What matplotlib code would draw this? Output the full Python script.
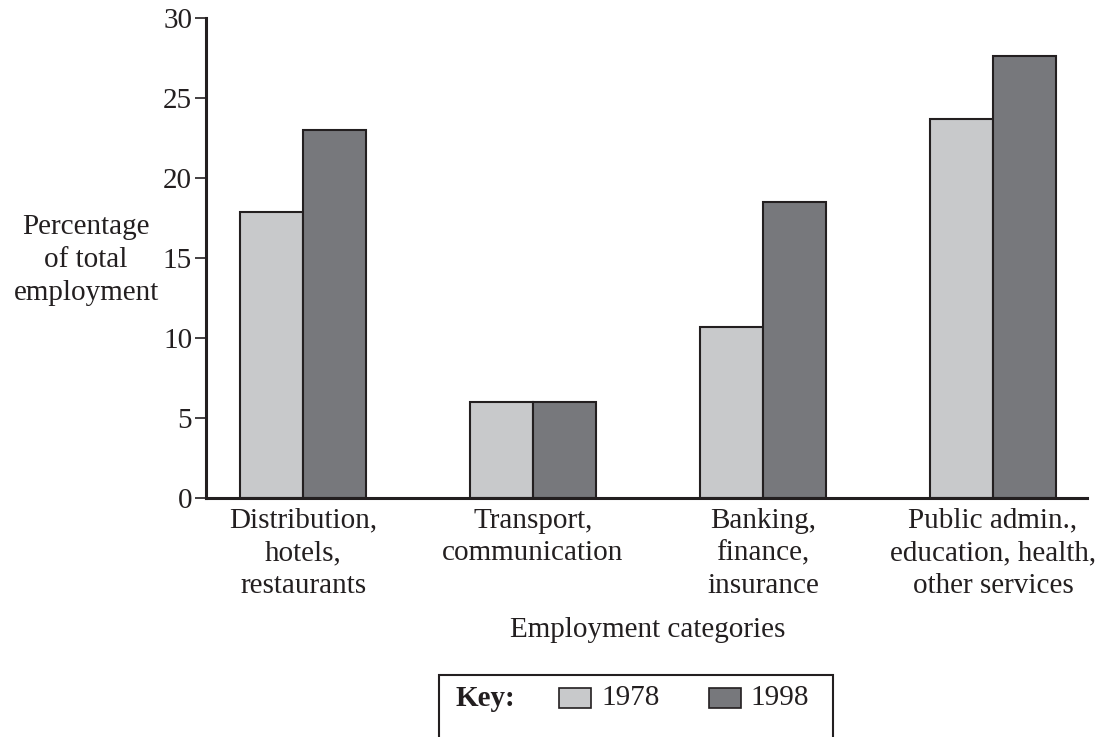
import numpy as np
import matplotlib
matplotlib.use('Agg')
import matplotlib.pyplot as plt
from matplotlib.patches import Rectangle

plt.rcParams['font.family'] = ['Liberation Serif', 'DejaVu Serif']

# Data
categories = ['Distribution,\nhotels,\nrestaurants',
              'Transport,\ncommunication',
              'Banking,\nfinance,\ninsurance',
              'Public admin.,\neducation, health,\nother services']
values_1978 = [17.9, 6.0, 10.7, 23.7]
values_1998 = [23.0, 6.0, 18.5, 27.6]
years = ['1978', '1998']

light = '#c8c9cb'
dark = '#77787c'
edge = '#231f20'
fs = 21
ls = 1.33

fig = plt.figure(figsize=(11.03, 7.37), dpi=100)
ax = fig.add_axes([0.1868, 0.3243, 0.7987, 0.6513])

x = np.arange(len(categories))
w = 0.274
ax.bar(x - w / 2, values_1978, w, color=light, edgecolor=edge, linewidth=1.5)
ax.bar(x + w / 2, values_1998, w, color=dark, edgecolor=edge, linewidth=1.5)

ax.set_xlim(-0.4217, 3.409)
ax.set_ylim(0, 30)
ax.set_yticks(range(0, 31, 5))
ax.set_xticks(x)
ax.set_xticklabels(categories, fontsize=fs, linespacing=ls, color=edge)
ax.tick_params(axis='y', labelsize=fs, labelcolor=edge, length=8, width=1.2,
               color=edge, pad=2)
ax.tick_params(axis='x', length=0, pad=7)

for s in ['top', 'right']:
    ax.spines[s].set_visible(False)
for s in ['left', 'bottom']:
    ax.spines[s].set_linewidth(2.2)
    ax.spines[s].set_color(edge)

fig.text(86 / 1103, 1 - 260 / 737, 'Percentage\nof total\nemployment',
         ha='center', va='center', fontsize=fs, linespacing=ls, color=edge)
fig.text(648 / 1103, 1 - 630 / 737, 'Employment categories',
         ha='center', va='center', fontsize=fs, color=edge)

# Key box (open at the bottom, runs off the figure)
fig.patches.append(Rectangle((439 / 1103, -0.1), (833 - 439) / 1103, 0.1 + 1 - 675 / 737,
                             transform=fig.transFigure, fill=False,
                             edgecolor=edge, linewidth=1.5))
ky = 1 - 698 / 737
fig.text(455 / 1103, ky, 'Key:', ha='left', va='center', fontsize=fs,
         fontweight='bold', color=edge)
for sx, tx, col, yr in [(559, 601, light, years[0]), (709, 750, dark, years[1])]:
    fig.patches.append(Rectangle((sx / 1103, 1 - 708 / 737), 32 / 1103, 20 / 737,
                                 transform=fig.transFigure, facecolor=col,
                                 edgecolor=edge, linewidth=1.2))
    fig.text(tx / 1103, ky, yr, ha='left', va='center', fontsize=fs, color=edge)

fig.savefig('out.png', dpi=100)
